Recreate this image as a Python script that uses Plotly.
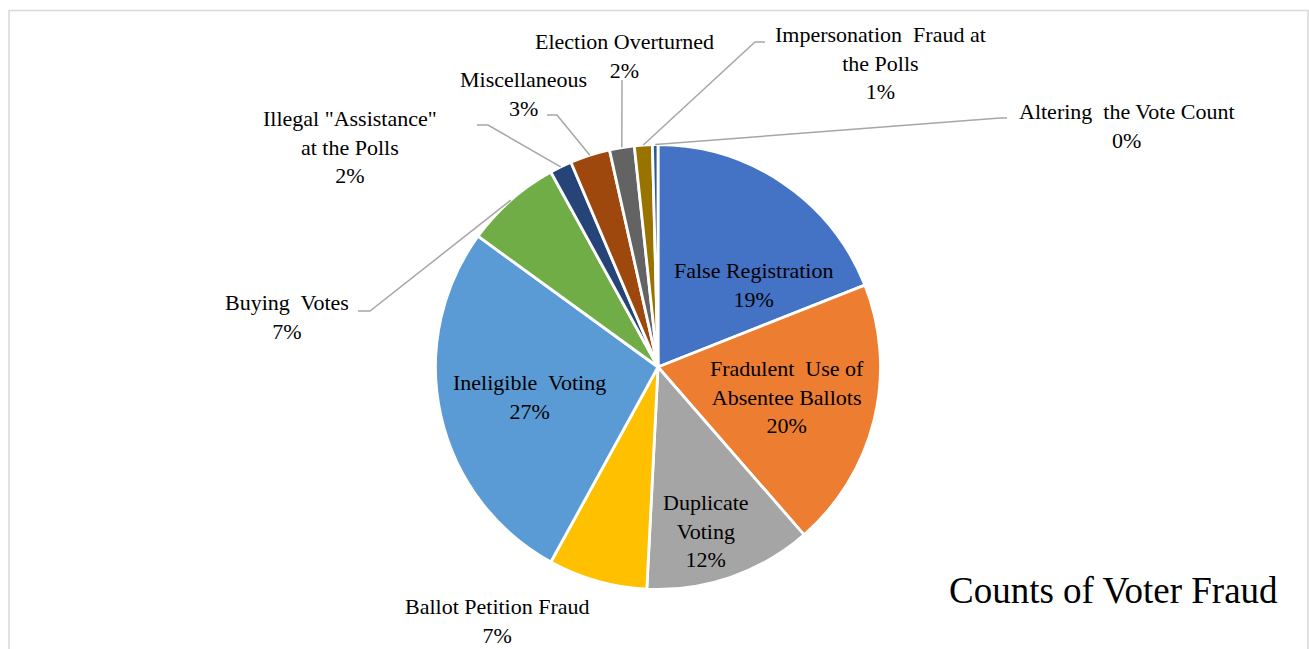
import math
import plotly.graph_objects as go

# ---- data (clockwise from 12 o'clock) ----
categories = [
    "False Registration",
    "Fradulent  Use of<br>Absentee Ballots",
    "Duplicate<br>Voting",
    "Ballot Petition Fraud",
    "Ineligible  Voting",
    "Buying  Votes",
    'Illegal "Assistance"<br>at the Polls',
    "Miscellaneous",
    "Election Overturned",
    "Impersonation  Fraud at<br>the Polls",
    "Altering  the Vote Count",
]
shares = [19.0, 19.6, 12.2, 7.2, 27.0, 7.0, 1.6, 2.9, 1.8, 1.3, 0.4]
colors = ["#4472C4", "#ED7D31", "#A5A5A5", "#FFC000", "#5B9BD5", "#70AD47",
          "#264478", "#9E480E", "#636363", "#997300", "#255E91"]
title_text = "Counts of Voter Fraud"

# ---- layout / style (pixel geometry) ----
W, H = 1309, 649
cx, cy, R = 658.0, 367.0, 222.5
FONT = "Liberation Serif, Times New Roman, serif"
label_pos = [(753, 285), (787, 397), (706, 531), (497, 621), (529, 397),
             (287, 317), (350, 147), (523, 94), (624, 56), (880, 63), (1127, 126)]
# leader line start points (label side), None = no leader line
leader_start = [None, None, None, None, None,
                [(358, 311), (370, 311)],
                [(477, 125), (488, 125)],
                [(547, 115), (557, 115)],
                [(622, 80)],
                [(765, 42), (755, 42)],
                [(1007, 118), (1000, 118)]]

total = sum(shares)

fig = go.Figure()
fig.add_trace(go.Pie(
    labels=[c.replace("<br>", " ") for c in categories],
    values=shares,
    sort=False,
    direction="clockwise",
    rotation=0,
    marker=dict(colors=colors, line=dict(color="white", width=2.8)),
    textinfo="none",
    hoverinfo="skip",
    showlegend=False,
    domain=dict(x=[(cx - R) / W, (cx + R) / W],
                y=[(H - cy - R) / H, (H - cy + R) / H]),
))

# invisible pixel-coordinate axes for labels and leader lines
fig.update_xaxes(range=[0, W], visible=False, fixedrange=True)
fig.update_yaxes(range=[H, 0], visible=False, fixedrange=True)
fig.add_trace(go.Scatter(x=[0], y=[0], mode="markers", marker=dict(opacity=0),
                         showlegend=False, hoverinfo="skip"))

annotations = []
shapes = []
cum = 0.0
for cat, v, pos, ls in zip(categories, shares, label_pos, leader_start):
    mid = (cum + v / 2) / total * 2 * math.pi
    cum += v
    pct = f"{round(v / total * 100):.0f}%"
    annotations.append(dict(
        x=pos[0], y=pos[1], xref="x", yref="y",
        text=f"{cat}<br>{pct}", showarrow=False,
        font=dict(family=FONT, size=22, color="#000000"),
        align="center", xanchor="center", yanchor="middle",
    ))
    if ls:
        ex = cx + R * math.sin(mid)
        ey = cy - R * math.cos(mid)
        pts = list(ls) + [(ex, ey)]
        path = "M " + " L ".join(f"{x:.1f},{y:.1f}" for x, y in pts)
        shapes.append(dict(type="path", path=path, xref="x", yref="y",
                           line=dict(color="#A6A6A6", width=1.5), layer="above"))

annotations.append(dict(
    x=1113, y=590, xref="x", yref="y", text=title_text, showarrow=False,
    font=dict(family=FONT, size=37, color="#000000"),
    xanchor="center", yanchor="middle",
))

# chart border
shapes.append(dict(type="rect", xref="x", yref="y", x0=9, y0=10.5, x1=1308, y1=700,
                   line=dict(color="#D9D9D9", width=1.5), layer="below"))

fig.update_layout(
    width=W, height=H,
    margin=dict(l=0, r=0, t=0, b=0),
    paper_bgcolor="white", plot_bgcolor="white",
    annotations=annotations, shapes=shapes,
    showlegend=False,
)

fig.write_html("out.html", config={"displayModeBar": False})
